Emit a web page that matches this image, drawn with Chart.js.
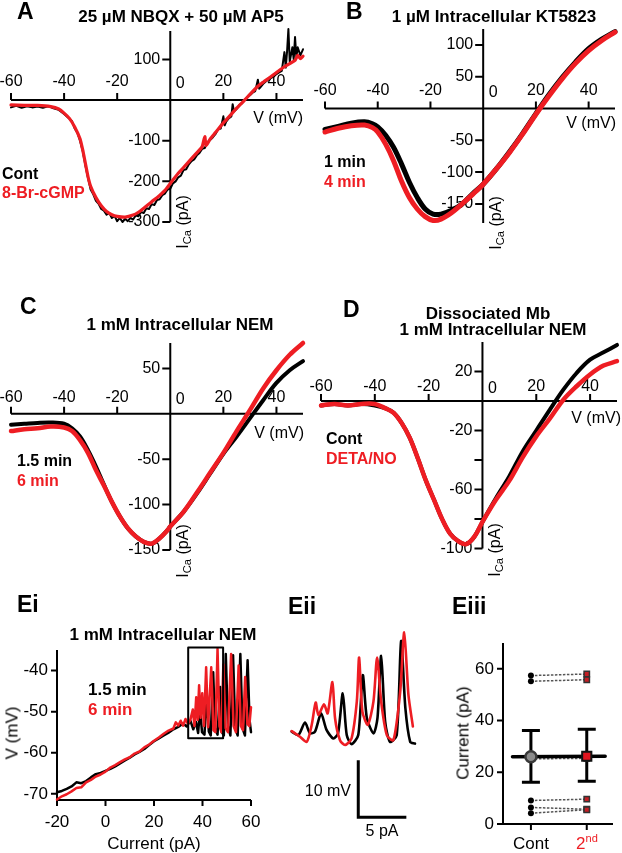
<!DOCTYPE html>
<html>
<head>
<meta charset="utf-8">
<script src="https://cdn.jsdelivr.net/npm/chart.js@4.4.1/dist/chart.umd.min.js"></script>
<style>
  body { margin: 0; width: 622px; height: 853px; position: relative; overflow: hidden; background: #fff;
         font-family: "Liberation Sans", Arial, sans-serif; }
  canvas { position: absolute; left: 0; top: 0; }
  .t { position: absolute; white-space: nowrap; line-height: 1; color: #000; }
  .t sub { font-size: 0.7em; vertical-align: -0.25em; line-height: 0; }
  .t sup { font-size: 0.65em; vertical-align: 0.55em; line-height: 0; }
</style>
</head>
<body>
<script>
// ---- données ----
// A : courbes I-V (mV, pA)
const aCont = [[-60,-18],[-58,-14],[-56,-19],[-54,-15],[-52,-18],[-50,-16],[-48,-19],[-46,-15],[-44,-20],[-42,-24],[-40,-34],[-38,-46],[-37,-52],[-36,-70],[-35,-80],[-34,-100],[-33,-125],[-32,-160],[-31,-192],[-30,-220],[-29,-232],[-28,-248],[-27,-255],[-26,-268],[-25,-272],[-24,-282],[-23,-278],[-22,-290],[-21,-285],[-20,-298],[-19,-290],[-18,-300],[-17,-292],[-16,-298],[-15,-290],[-14,-294],[-13,-284],[-12,-286],[-11,-275],[-10,-278],[-9,-266],[-8,-268],[-7,-256],[-6,-258],[-5,-246],[-4,-244],[-3,-234],[-2,-230],[-1,-220],[0,-218],[1,-205],[2,-200],[3,-190],[4,-186],[5,-172],[6,-170],[7,-158],[8,-150],[9,-146],[10,-136],[11,-130],[12,-120],[13,-118],[14,-104],[15,-98],[16,-92],[17,-84],[18,-72],[19,-70],[20,-40],[20.5,-62],[21,-54],[22,-45],[23,-40],[23.5,-10],[24,-28],[25,-22],[26,-12],[27,-8],[28,0],[29,8],[30,12],[31,18],[32,22],[33,50],[33.5,28],[34,32],[35,40],[36,46],[37,50],[38,55],[39,58],[40,64],[41,68],[42,72],[43,118],[43.5,80],[44,120],[44.5,175],[45,95],[46,130],[46.5,100],[47,155],[47.5,105],[48,130],[49,110],[50,125]];
const aDrug = [[-60,-12],[-55,-13],[-50,-13],[-45,-16],[-42,-22],[-40,-32],[-38,-45],[-36,-66],[-34,-95],[-33,-122],[-32,-155],[-31,-188],[-30,-212],[-28,-240],[-26,-260],[-24,-274],[-22,-282],[-20,-286],[-17,-288],[-14,-283],[-12,-276],[-10,-266],[-7,-250],[-5,-240],[-2,-222],[0,-205],[3,-180],[5,-166],[8,-144],[10,-130],[12,-115],[13,-90],[13.5,-112],[15,-96],[17,-80],[20,-56],[22,-42],[25,-20],[28,0],[30,14],[33,34],[35,44],[38,58],[40,68],[43,82],[45,90],[47,98],[48,110],[49,102],[50,108]];
// B
const bT1 = [[-60,-33],[-55,-28],[-50,-23],[-45,-21],[-42,-24],[-40,-29],[-37,-42],[-34,-61],[-31,-87],[-28,-116],[-25,-140],[-22,-158],[-19,-166],[-16,-166],[-12,-160],[-8,-150],[-4,-134],[0,-119],[5,-95],[10,-68],[15,-39],[20,-8],[25,22],[30,49],[35,73],[40,94],[45,109],[50,121]];
const bT4 = [[-60,-37],[-55,-31],[-50,-27],[-45,-26],[-42,-30],[-40,-37],[-37,-56],[-34,-82],[-31,-114],[-28,-140],[-25,-158],[-22,-170],[-19,-176],[-16,-174],[-12,-164],[-8,-150],[-4,-135],[0,-119],[5,-95],[10,-69],[15,-40],[20,-9],[25,20],[30,47],[35,71],[40,91],[45,107],[50,120]];
// C
const cT15 = [[-60,-12],[-55,-11],[-50,-10],[-45,-9.6],[-40,-11],[-37,-16],[-34,-25],[-31,-40],[-28,-58],[-25,-78],[-22,-97],[-19,-113],[-16,-126],[-13,-135],[-10,-141],[-7,-143],[-4,-137],[-1,-128],[0,-124],[5,-108],[10,-88],[15,-66],[20,-44],[25,-25],[30,-5],[35,15],[40,34],[45,48],[50,58]];
const cT6 = [[-60,-19],[-55,-17],[-50,-16],[-45,-14],[-40,-15],[-37,-19],[-34,-29],[-31,-43],[-28,-62],[-25,-79],[-22,-97],[-19,-113],[-16,-126],[-13,-135],[-10,-141],[-7,-143],[-4,-137],[-1,-128],[0,-124],[5,-108],[10,-87],[15,-65],[20,-43],[25,-19],[30,4],[35,28],[40,48],[45,65],[50,78]];
// D
const dCont = [[-60,-3],[-55,-2],[-50,-3],[-45,-2],[-40,-3],[-36,-5],[-33,-8],[-30,-15],[-27,-25],[-24,-39],[-21,-54],[-18,-67],[-15,-80],[-12,-90],[-9,-95],[-6,-97],[-3,-92],[0,-82],[5,-66],[10,-51],[15,-34],[20,-20],[25,-6],[30,7.5],[35,19],[40,28],[45,33],[50,38]];
const dDeta = [[-60,-3],[-55,-2],[-50,-3],[-45,-2],[-40,-2],[-36,-5],[-33,-8],[-30,-15],[-27,-25],[-24,-39],[-21,-54],[-18,-67],[-15,-80],[-12,-90],[-9,-95],[-6,-97],[-3,-92],[0,-82],[5,-67],[10,-54],[15,-38],[20,-24],[25,-12],[30,0.7],[35,10],[40,18],[45,24],[50,27]];
// Ei : V (mV) en fonction du courant injecté (pA)
const eiT15 = [[-20,-69.6],[-18,-69.3],[-16,-68.8],[-14,-68.2],[-12,-67.2],[-10,-67.4],[-8,-66.9],[-6,-66],[-4,-65.2],[-2,-64.9],[0,-64.4],[2,-63.9],[4,-63.3],[6,-62.6],[8,-61.9],[10,-61.2],[12,-60.4],[14,-59.8],[16,-59.1],[18,-58.1],[20,-57.2],[22,-56.5],[24,-55.8],[26,-55.1],[28,-54.3],[30,-53.7],[32,-52.9],[33.5,-53.6],[35,-52.2],[36.2,-54.3],[37.3,-52.5],[38.2,-55.2],[39,-49.3],[39.8,-55],[40.8,-55.6],[41.8,-46],[42.6,-54.8],[43.4,-55.8],[44.4,-40.4],[45.2,-54],[46.2,-55.6],[47.3,-44],[48,-55],[48.8,-55.8],[49.6,-36],[50.5,-53.5],[51.5,-55.8],[52.6,-36.3],[53.5,-54],[54.5,-55.8],[55.6,-36],[56.5,-54],[57.5,-55.8],[58.6,-37.5],[59.4,-52],[60,-55]];
const eiT6 = [[-20,-71.4],[-18,-70.6],[-16,-70.1],[-14,-69.4],[-12,-68.6],[-10,-68.4],[-8,-67.2],[-6,-66.6],[-4,-65.8],[-2,-65.3],[0,-64.6],[2,-63.6],[4,-63],[6,-62.3],[8,-61.6],[10,-61.1],[12,-60.2],[14,-59.7],[16,-58.7],[18,-58],[20,-57.1],[22,-56.3],[24,-55.4],[26,-54.6],[28,-54.1],[29,-52.6],[30,-53.4],[31,-52.2],[32,-53.4],[33,-51.8],[34,-53],[35,-52],[36,-49.5],[36.7,-53.5],[37.4,-46.5],[38,-52],[38.6,-43.6],[39.2,-51.5],[39.9,-45.5],[40.6,-53.5],[41.5,-39.2],[42.3,-53.8],[43.6,-39.2],[44.5,-54.5],[45.3,-55],[46.2,-34.7],[47,-53.5],[47.8,-55],[48.6,-38.5],[49.5,-54],[50.5,-55],[51.8,-36],[52.8,-53.5],[53.8,-55],[54.9,-38.8],[55.8,-53.5],[56.7,-54.5],[57.6,-41.6],[58.5,-53],[59.3,-53.5],[60,-48.9]];
const eiBox = [[34.1,-56.5],[48.5,-34.4]];
// Eii : agrandissement (pA, mV relatifs)
const eiiT15 = [[0.17,4.1],[0.87,3.5],[1.56,5.7],[2.08,3.8],[2.6,4.1],[3.23,7.3],[3.8,4.4],[4.5,2.9],[5.0,3.8],[5.49,10.8],[5.9,3.5],[6.4,1.9],[7.1,3.5],[7.57,14.0],[8.0,6.4],[8.7,3.8],[9.1,6.5],[9.48,17.4],[9.9,5.8],[10.4,2.3],[11.1,3.5],[11.56,20.0],[12.0,8.2],[12.5,2.3],[13.0,2.0]];
const eiiT6 = [[0.17,4.2],[1.04,3.2],[1.74,2.3],[2.26,5.3],[2.67,9.2],[2.95,7.0],[3.54,8.9],[3.92,7.3],[4.41,12.8],[4.69,6.4],[5.2,2.6],[5.73,1.75],[6.4,2.9],[6.95,9.4],[7.19,17.1],[7.53,7.6],[8.09,5.3],[8.68,9.4],[9.06,17.1],[9.48,9.4],[10.07,3.5],[10.76,2.6],[11.46,11.1],[11.88,21.5],[12.32,10.5],[12.78,5.0]];
const eiiBar = { x: 7.1, y: -0.9, mV: 10, pA: 5 };
// Eiii : seuil de courant par cellule
const eiiiCats = ['Cont', '2<sup>nd</sup>'];
const eiiiCont = [57.4, 55.2, 25.2, 9.1, 6.4, 4.2];
const eiii2nd = [58.0, 55.8, 25.4, 9.6, 5.7, 5.5];
const eiiiMean = [26.0, 26.2];
const eiiiErr = [[16.1, 36.2], [16.5, 36.6]];
// graduations
const ivTicksX = [-60, -40, -20, 20, 40];
const aTicksY = [100, -100, -200, -300];
const bTicksY = [100, 50, -50, -100, -150];
const cTicksY = [50, -50, -100, -150];
const dTicksY = [20, -20, -40, -60, -80, -100];
const dLabelsY = [20, -20, -60, -100];
const eiTicksX = [-20, 0, 20, 40, 60];
const eiTicksY = [-40, -50, -60, -70];
const eiiiTicksY = [0, 20, 40, 60];

// ---- mise en page ----
const W = 622, H = 853;
const RED = '#ee1d23';
const FONT = '"Liberation Sans", Arial, sans-serif';

function trace(points, color, width, tension) {
  return {
    data: points.map(p => ({ x: p[0], y: p[1] })),
    showLine: true, borderColor: color, backgroundColor: color, borderWidth: width,
    pointRadius: 0, tension: tension || 0, clip: false,
    borderJoinStyle: 'round', borderCapStyle: 'round'
  };
}

function panel(area, xr, yr, datasets, plugin) {
  const cv = document.createElement('canvas');
  cv.width = W; cv.height = H;
  document.body.appendChild(cv);
  return new Chart(cv, {
    type: 'scatter',
    data: { datasets: datasets },
    options: {
      responsive: false, animation: false, devicePixelRatio: 1, events: [],
      layout: { padding: { left: area[0], top: area[1], right: W - area[2], bottom: H - area[3] } },
      scales: {
        x: { type: 'linear', min: xr[0], max: xr[1], display: false },
        y: { type: 'linear', min: yr[0], max: yr[1], display: false }
      },
      plugins: { legend: { display: false }, tooltip: { enabled: false } }
    },
    plugins: [plugin]
  });
}

// axes croisés en (0,0) pour les courbes I-V
function ivAxes(ticksY, labelsY, lab) {
  return {
    id: 'ivAxes',
    beforeDatasetsDraw(chart) {
      const { ctx } = chart, x = chart.scales.x, y = chart.scales.y;
      const x0 = x.getPixelForValue(0), y0 = y.getPixelForValue(0);
      ctx.save();
      ctx.strokeStyle = '#000'; ctx.lineWidth = 2;
      ctx.beginPath();
      ctx.moveTo(x.getPixelForValue(x.min), y0); ctx.lineTo(x.getPixelForValue(x.max), y0);
      ctx.moveTo(x0, y.getPixelForValue(y.max)); ctx.lineTo(x0, y.getPixelForValue(y.min));
      ivTicksX.forEach(v => { const p = x.getPixelForValue(v); ctx.moveTo(p, y0); ctx.lineTo(p, y0 - 7); });
      ticksY.forEach(v => { const p = y.getPixelForValue(v); ctx.moveTo(x0, p); ctx.lineTo(x0 - 8, p); });
      ctx.stroke();
      ctx.fillStyle = '#000'; ctx.font = '16px ' + FONT;
      ctx.textAlign = 'center'; ctx.textBaseline = 'middle';
      ivTicksX.forEach(v => ctx.fillText(String(v), x.getPixelForValue(v), y0 - lab));
      ctx.fillText('0', x0 + 10, y0 - lab + 2);
      ctx.textAlign = 'right';
      labelsY.forEach(v => ctx.fillText(String(v), x0 - 10, y.getPixelForValue(v)));
      ctx.restore();
    }
  };
}

// axes en L (Ei, Eiii)
function lAxes(ticksX, ticksY, extra) {
  return {
    id: 'lAxes',
    beforeDatasetsDraw(chart) {
      const { ctx } = chart, x = chart.scales.x, y = chart.scales.y;
      const xl = x.getPixelForValue(x.min), xr = x.getPixelForValue(x.max);
      const yb = y.getPixelForValue(y.min), yt = y.getPixelForValue(y.max);
      ctx.save();
      ctx.strokeStyle = '#000'; ctx.lineWidth = 2;
      ctx.beginPath();
      ctx.moveTo(xl, yt); ctx.lineTo(xl, yb); ctx.lineTo(xr, yb);
      ticksX.forEach(v => { const p = x.getPixelForValue(v); ctx.moveTo(p, yb); ctx.lineTo(p, yb + 6); });
      ticksY.forEach(v => { const p = y.getPixelForValue(v); ctx.moveTo(xl, p); ctx.lineTo(xl - 6, p); });
      ctx.stroke();
      ctx.fillStyle = '#000'; ctx.font = '17px ' + FONT; ctx.textBaseline = 'middle';
      ctx.textAlign = 'right';
      ticksY.forEach(v => ctx.fillText(String(v), xl - 9, y.getPixelForValue(v)));
      if (extra.labelsX) {
        ctx.textAlign = 'center';
        ticksX.forEach(v => ctx.fillText(String(v), x.getPixelForValue(v), yb + 22));
      }
      if (extra.draw) extra.draw(ctx, x, y);
      ctx.restore();
    }
  };
}

function txt(s, x, y, o) {
  o = o || {};
  const d = document.createElement('div');
  d.className = 't'; d.innerHTML = s;
  d.style.left = x + 'px'; d.style.top = y + 'px';
  d.style.fontSize = (o.size || 16) + 'px';
  d.style.fontWeight = o.bold ? 'bold' : 'normal';
  d.style.color = o.color || '#000';
  const tx = o.rot ? '-50%' : (o.align === 'c' ? '-50%' : o.align === 'r' ? '-100%' : '0');
  d.style.transform = 'translate(' + tx + ',-50%)' + (o.rot ? ' rotate(-90deg)' : '');
  document.body.appendChild(d);
}

// A
panel([11, 31, 303, 222], [-60, 50], [-300, 170],
  [trace(aDrug, RED, 3.2, 0.2), trace(aCont, '#000', 2)],
  ivAxes(aTicksY, aTicksY, 18));
// B
panel([325, 29, 615, 223], [-60, 50], [-180, 125],
  [trace(bT4, RED, 5, 0.35), trace(bT1, '#000', 5, 0.35)],
  ivAxes(bTicksY, bTicksY, 18));
// C
panel([11, 343, 303, 550], [-60, 50], [-150, 78],
  [trace(cT6, RED, 4.5, 0.35), trace(cT15, '#000', 4, 0.35)],
  ivAxes(cTicksY, cTicksY, 16));
// D
panel([321, 342, 617, 548.5], [-60, 50], [-100, 40],
  [trace(dDeta, RED, 4.5, 0.35), trace(dCont, '#000', 4, 0.35)],
  ivAxes(dTicksY, dLabelsY, 14));

// Ei
const boxPts = [[eiBox[0][0], eiBox[0][1]], [eiBox[1][0], eiBox[0][1]], [eiBox[1][0], eiBox[1][1]], [eiBox[0][0], eiBox[1][1]], [eiBox[0][0], eiBox[0][1]]];
panel([57, 650, 251, 800], [-20, 60], [-71.5, -35],
  [trace(boxPts, '#000', 2), trace(eiT6, RED, 2.5), trace(eiT15, '#000', 2.5)],
  lAxes(eiTicksX, eiTicksY, { labelsX: true }));

// Eii
const barPts = [[eiiBar.x, eiiBar.y], [eiiBar.x, eiiBar.y - eiiBar.mV], [eiiBar.x + eiiBar.pA, eiiBar.y - eiiBar.mV]];
panel([290, 625, 415, 755], [0, 13], [0, 22.8],
  [Object.assign(trace(barPts, '#000', 3), { borderJoinStyle: 'miter', borderCapStyle: 'butt' }),
   trace(eiiT6, RED, 2.6, 0.25), trace(eiiT15, '#000', 2.6, 0.25)],
  { id: 'none' });

// Eiii
const pairLines = eiiiCont.map((v, i) => Object.assign(trace([[0, v], [1, eiii2nd[i]]], '#555', 1.5),
  { borderDash: [2.5, 1.5], borderCapStyle: 'butt' }));
panel([503, 643, 613, 824], [-0.5, 1.47], [0, 70],
  [
    { data: [{ x: 0, y: eiiiMean[0] }], pointStyle: 'circle', pointRadius: 5.5, backgroundColor: '#8c8c8c', borderColor: '#3a3a3a', borderWidth: 2.5 },
    { data: [{ x: 1, y: eiiiMean[1] }], pointStyle: 'rect', pointRadius: 6.5, backgroundColor: '#e0141e', borderColor: '#111', borderWidth: 2 },
    { data: eiiiCont.map(v => ({ x: 0, y: v })), pointStyle: 'circle', pointRadius: 3, backgroundColor: '#000', borderColor: '#000', borderWidth: 0 },
    { data: eiii2nd.map(v => ({ x: 1, y: v })), pointStyle: 'rect', pointRadius: 3.8, backgroundColor: '#c41e24', borderColor: '#333', borderWidth: 1.5 },
    trace([[-0.33, eiiiMean[0]], [1.33, eiiiMean[1]]], '#000', 3.5)
  ].concat(pairLines),
  lAxes([0, 1], eiiiTicksY, {
    draw(ctx, x, y) {
      // barres d'erreur
      ctx.lineWidth = 3;
      ctx.beginPath();
      eiiiErr.forEach((e, i) => {
        const px = x.getPixelForValue(i), lo = y.getPixelForValue(e[0]), hi = y.getPixelForValue(e[1]);
        ctx.moveTo(px, lo); ctx.lineTo(px, hi);
        ctx.moveTo(px - 9, lo); ctx.lineTo(px + 9, lo);
        ctx.moveTo(px - 9, hi); ctx.lineTo(px + 9, hi);
      });
      ctx.stroke();
    }
  }));

// ---- textes ----
const L = 23, T = 17, G = 16;
txt('A', 17, 11, { size: L, bold: true });
txt('25 µM NBQX + 50 µM AP5', 181, 16, { size: T, bold: true, align: 'c' });
txt('Cont', 2, 174, { size: G, bold: true });
txt('8-Br-cGMP', 2, 193, { size: G, bold: true, color: RED });
txt('V (mV)', 303, 118, { size: 16, align: 'r' });
txt('I<sub>Ca</sub> (pA)', 183, 222, { size: 16, rot: true });

txt('B', 346, 11, { size: L, bold: true });
txt('1 µM Intracellular KT5823', 494, 16, { size: T, bold: true, align: 'c' });
txt('1 min', 324, 162, { size: G, bold: true });
txt('4 min', 324, 182, { size: G, bold: true, color: RED });
txt('V (mV)', 616, 123, { size: 16, align: 'r' });
txt('I<sub>Ca</sub> (pA)', 496, 223, { size: 16, rot: true });

txt('C', 20, 306, { size: L, bold: true });
txt('1 mM Intracellular NEM', 180, 324, { size: T, bold: true, align: 'c' });
txt('1.5 min', 17, 461, { size: G, bold: true });
txt('6 min', 17, 481, { size: G, bold: true, color: RED });
txt('V (mV)', 304, 433, { size: 16, align: 'r' });
txt('I<sub>Ca</sub> (pA)', 183, 551, { size: 16, rot: true });

txt('D', 343, 309, { size: L, bold: true });
txt('Dissociated Mb', 488, 313, { size: T, bold: true, align: 'c' });
txt('1 mM Intracellular NEM', 493, 329, { size: T, bold: true, align: 'c' });
txt('Cont', 326, 439, { size: G, bold: true });
txt('DETA/NO', 326, 459, { size: G, bold: true, color: RED });
txt('V (mV)', 621, 418, { size: 16, align: 'r' });
txt('I<sub>Ca</sub> (pA)', 495, 550, { size: 16, rot: true });

txt('Ei', 17, 604, { size: L, bold: true });
txt('1 mM Intracellular NEM', 163, 634, { size: T, bold: true, align: 'c' });
txt('1.5 min', 88, 689, { size: T, bold: true });
txt('6 min', 88, 709, { size: T, bold: true, color: RED });
txt('Current (pA)', 154, 843, { size: 17, align: 'c' });
txt('V (mV)', 12, 733, { size: 17, rot: true });

txt('Eii', 288, 606, { size: L, bold: true });
txt('10 mV', 351, 791, { size: 16, align: 'r' });
txt('5 pA', 382, 831, { size: 16, align: 'c' });

txt('Eiii', 452, 606, { size: L, bold: true });
txt('Current (pA)', 463, 733, { size: 17, rot: true });
txt(eiiiCats[0], 531, 843, { size: 17, align: 'c' });
txt(eiiiCats[1], 587, 843, { size: 17, align: 'c', color: RED });
</script>
</body>
</html>
